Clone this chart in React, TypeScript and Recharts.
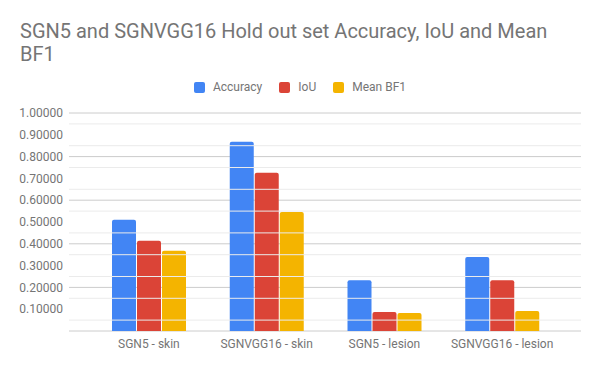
import React from "react";
import { BarChart, Bar, XAxis, YAxis, CartesianGrid, Legend, ReferenceLine } from "recharts";

const categories = ["SGN5 - skin", "SGNVGG16 - skin", "SGN5 - lesion", "SGNVGG16 - lesion"];
const accuracy = [0.51, 0.868, 0.233, 0.34];
const iou = [0.414, 0.726, 0.087, 0.233];
const meanBF1 = [0.368, 0.546, 0.083, 0.092];
const majorTicks = [0.1, 0.2, 0.3, 0.4, 0.5, 0.6, 0.7, 0.8, 0.9, 1.0];
const minorTicks = [0.05, 0.15, 0.25, 0.35, 0.45, 0.55, 0.65, 0.75, 0.85, 0.95];

const series = [
  { key: "Accuracy", values: accuracy, color: "#4285F4" },
  { key: "IoU", values: iou, color: "#DB4437" },
  { key: "Mean BF1", values: meanBF1, color: "#F4B400" },
];

const data = categories.map((c, i) => {
  const row: any = { name: c };
  series.forEach((s) => (row[s.key] = s.values[i]));
  return row;
});

const FONT = "Roboto, 'Noto Sans', sans-serif";
const TEXT = "#757575";

const LegendContent = (props: any) => {
  const payload = props.payload || [];
  return (
    <div style={{ display: "flex", justifyContent: "center", alignItems: "center", height: 14, fontFamily: FONT, fontSize: 12, color: TEXT }}>
      {payload.map((p: any, i: number) => (
        <div key={i} style={{ display: "flex", alignItems: "center", marginLeft: i === 0 ? 0 : 17 }}>
          <div style={{ width: 11, height: 11, borderRadius: 2, background: p.color, marginRight: 8 }} />
          <span>{p.value}</span>
        </div>
      ))}
    </div>
  );
};

export default function App() {
  return (
    <div style={{ position: "absolute", left: 0, top: 0, width: 600, height: 371, background: "#fff" }}>
      <div style={{ position: "absolute", left: 20, top: 20, fontFamily: FONT, fontSize: 20, lineHeight: "23px", color: TEXT, whiteSpace: "nowrap" }}>
        SGN5 and SGNVGG16 Hold out set Accuracy, IoU and Mean
        <br />
        BF1
      </div>
      <BarChart
        width={600}
        height={371}
        data={data}
        margin={{ top: 99, right: 19, bottom: 10, left: 0 }}
        barSize={24}
        barGap={1}
      >
        <CartesianGrid vertical={false} stroke="#cccccc" strokeWidth={1} />
        {minorTicks.map((t) => (
          <ReferenceLine key={t} y={t} stroke="#ebebeb" strokeWidth={1} ifOverflow="visible" />
        ))}
        <XAxis
          dataKey="name"
          axisLine={false}
          tickLine={false}
          height={30}
          tickMargin={2}
          padding={{ left: 21, right: 20 }}
          tick={{ fill: TEXT, fontSize: 12, fontFamily: FONT }}
        />
        <YAxis
          domain={[0, 1]}
          ticks={majorTicks}
          width={69}
          axisLine={false}
          tickLine={false}
          tickMargin={0}
          tickFormatter={(v: number) => v.toFixed(5)}
          tick={{ fill: TEXT, fontSize: 12, fontFamily: FONT }}
        />
        <Legend verticalAlign="top" content={LegendContent} wrapperStyle={{ top: 80, left: 0, width: 600, height: 14 }} />
        {series.map((s) => (
          <Bar key={s.key} dataKey={s.key} fill={s.color} radius={[2, 2, 0, 0]} isAnimationActive={false} />
        ))}
      </BarChart>
    </div>
  );
}
